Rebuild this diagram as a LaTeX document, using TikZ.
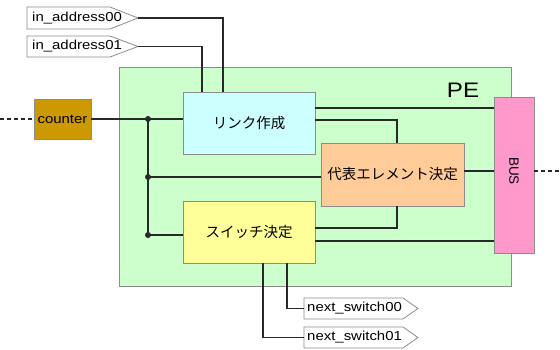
\documentclass[tikz,border=0pt]{standalone}
\usepackage{fontspec}
\setmainfont{Liberation Sans}[FakeStretch=1.15]
\newfontfamily\jpfont{Noto Sans CJK JP}
\newfontfamily\busfont{Liberation Sans}
\definecolor{pegreen}{RGB}{204,255,204}
\definecolor{linkcyan}{RGB}{204,255,255}
\definecolor{reporange}{RGB}{255,204,153}
\definecolor{swyellow}{RGB}{255,255,153}
\definecolor{buspink}{RGB}{255,153,204}
\definecolor{ctrgold}{RGB}{204,153,0}
\definecolor{edgegray}{RGB}{140,140,140}
\definecolor{wire}{RGB}{40,40,40}
\begin{document}
\begin{tikzpicture}[x=1pt,y=-1pt,
  blockbox/.style={draw=edgegray,line width=0.8pt,inner sep=0pt,font=\jpfont\fontsize{14.5}{16}\selectfont},
  wireline/.style={draw=wire,line width=1.4pt},
  dashwire/.style={draw=wire,line width=1.1pt,dash pattern=on 4pt off 3pt},
  dotjunc/.style={circle,fill=wire,inner sep=0pt,minimum size=6pt},
  sigbox/.style={draw=edgegray,fill=white,line width=0.8pt},
  lbl/.style={inner sep=0pt,anchor=west,font=\fontsize{13}{15}\selectfont}]
\useasboundingbox (0,0) rectangle (560,349);
% PE container
\node[draw=edgegray,fill=pegreen,line width=0.8pt,minimum width=392pt,minimum height=219pt,inner sep=0pt] (pe) at (315,176.5) {};
\node[inner sep=0pt,font=\fontsize{21}{24}\selectfont] (pelbl) at (463,90) {PE};
% blocks
\node[blockbox,fill=linkcyan,minimum width=132pt,minimum height=62pt] (link) at (249,123) {リンク作成};
\node[blockbox,fill=swyellow,minimum width=132pt,minimum height=62pt] (sw) at (249,232) {スイッチ決定};
\node[blockbox,fill=reporange,minimum width=143pt,minimum height=63pt] (rep) at (392.5,174.5) {代表エレメント決定};
\node[blockbox,fill=buspink,minimum width=40pt,minimum height=156pt] (bus) at (514,175) {};
\node[inner sep=0pt,rotate=-90,font=\busfont\fontsize{13.5}{15}\selectfont] (buslbl) at (514,171) {BUS};
\node[draw=edgegray,fill=ctrgold,line width=0.8pt,minimum width=57pt,minimum height=40pt,inner sep=0pt,font=\fontsize{13}{15}\selectfont] (ctr) at (62.5,119) {counter};
% input signals
\path[sigbox] (27,7) -- (110,7) -- (138,18) -- (110,29) -- (27,29) -- cycle;
\coordinate (ia0) at (138,18);
\node[lbl] (ia0t) at (32,18) {in\_address00};
\path[sigbox] (27,36) -- (110,36) -- (138,46.5) -- (110,57) -- (27,57) -- cycle;
\coordinate (ia1) at (138,46.5);
\node[lbl] (ia1t) at (32,46.5) {in\_address01};
% output signals
\path[sigbox] (304,298) -- (403,298) -- (418,308.5) -- (403,319) -- (304,319) -- cycle;
\coordinate (ns0) at (304,308.5);
\node[lbl] (ns0t) at (307,308.5) {next\_switch00};
\path[sigbox] (304,327) -- (403,327) -- (418,337.5) -- (403,348) -- (304,348) -- cycle;
\coordinate (ns1) at (304,337.5);
\node[lbl] (ns1t) at (307,337.5) {next\_switch01};
% dashed ends
\coordinate (leftend) at (0,119);
\coordinate (rightend) at (560,171);
\draw[dashwire] (leftend) -- (ctr.west);
\draw[dashwire] (bus.east |- rightend) -- (rightend);
% junctions
\coordinate (j1) at (148,119);
\coordinate (j2) at (148,177);
\coordinate (j3) at (148,235);
\draw[wireline] (ctr.east) -- (link.west |- ctr.east);
\draw[wireline] (j1) -- (j3);
\draw[wireline] (j2) -- (rep.west |- j2);
\draw[wireline] (j3) -- (sw.west |- j3);
\node[dotjunc] at (j1) {};
\node[dotjunc] at (j2) {};
\node[dotjunc] at (j3) {};
% inputs to link
\draw[wireline] (ia0) -| (link.north -| 223,0);
\draw[wireline] (ia1) -| (link.north -| 202,0);
% link outputs
\draw[wireline] (link.east |- 0,108) -- (bus.west |- 0,108);
\draw[wireline] (link.east |- 0,120) -| (rep.north -| 397,0);
% rep to bus
\draw[wireline] (rep.east |- 0,171) -- (bus.west |- 0,171);
% switch outputs
\draw[wireline] (sw.east |- 0,228) -| (rep.south -| 397,0);
\draw[wireline] (sw.east |- 0,241) -- (bus.west |- 0,241);
\draw[wireline] (sw.south -| 287,0) |- (ns0);
\draw[wireline] (sw.south -| 263,0) |- (ns1);
\end{tikzpicture}
\end{document}
